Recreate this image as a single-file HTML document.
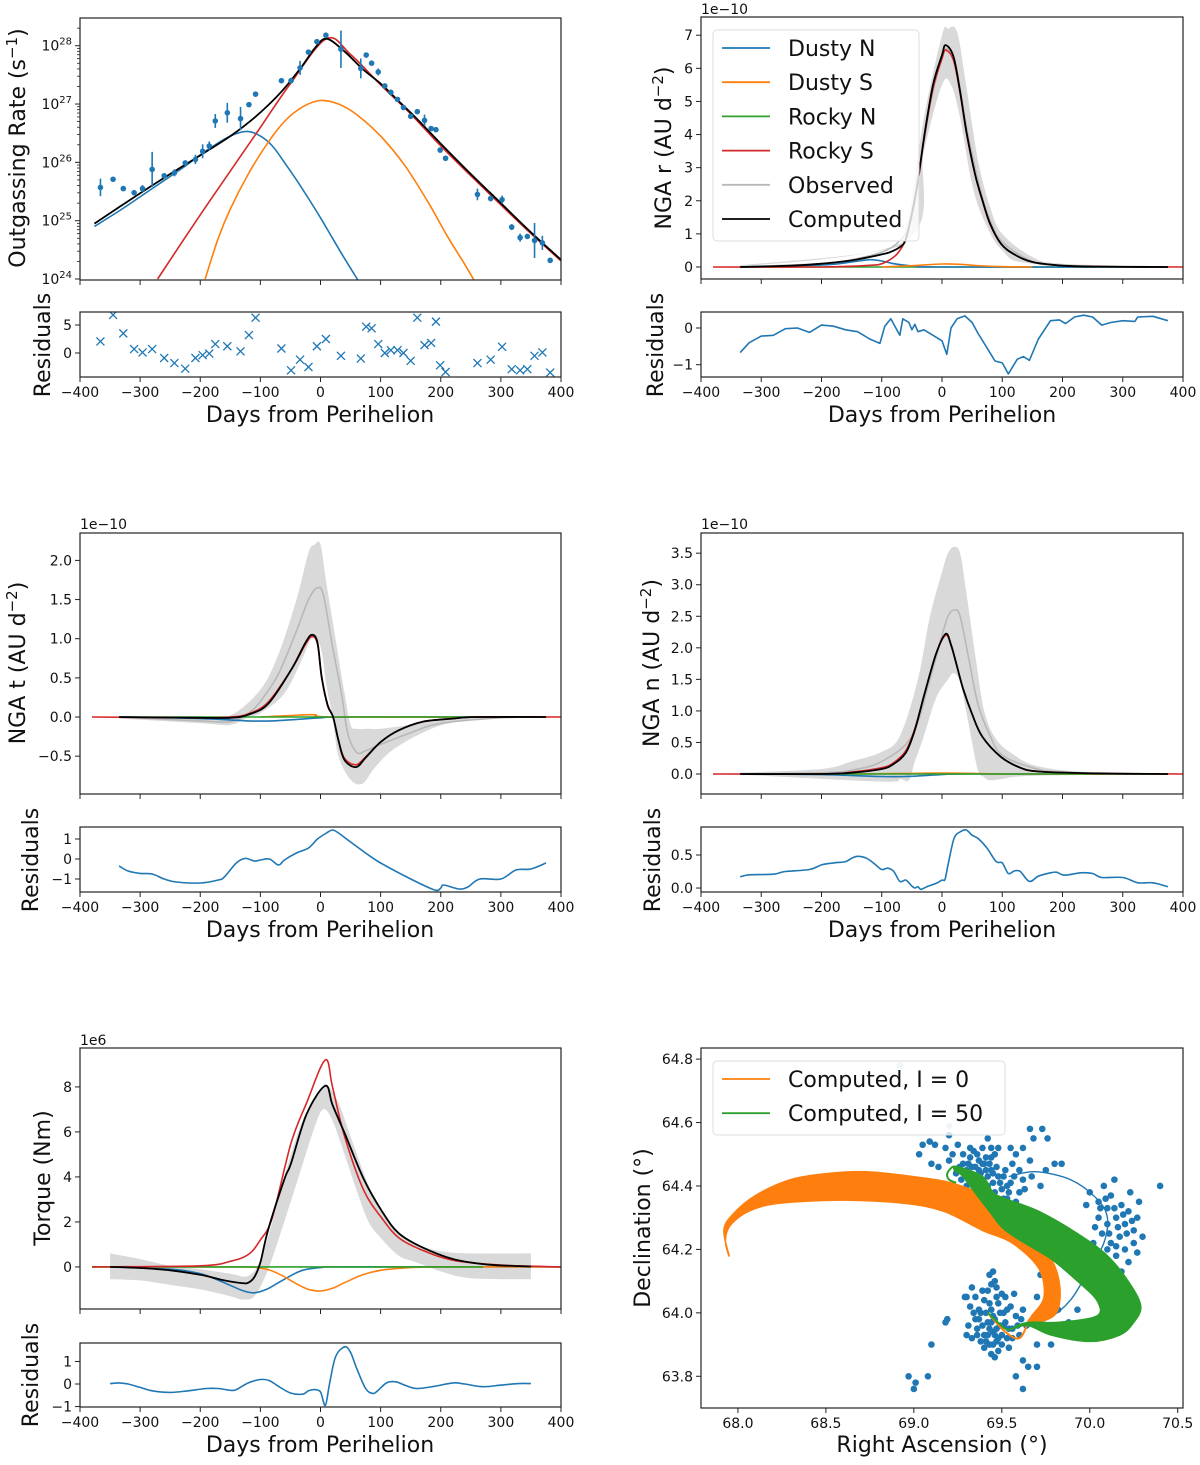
<!DOCTYPE html>
<html><head><meta charset="utf-8"><title>Outgassing and NGA model fit</title>
<style>
html,body{margin:0;padding:0;background:#fff;}
svg{display:block;font-family:"DejaVu Sans","Liberation Sans",sans-serif;}
</style></head>
<body>
<svg id="fig" xmlns="http://www.w3.org/2000/svg" width="1200" height="1465" viewBox="0 0 1200 1465"></svg>
<script>
// ---------- Panel 1: outgassing rate (log10 values) ----------
const p1Days = [-366,-345,-328,-310,-296,-280,-260,-243,-225,-208,-196,-185,-175,-155,-133,-119,-108,-65,-49,-34,-20,-6,9,34,67,76,85,96,107,117,128,138,150,161,173,184,192,199,208,261,283,302,318,332,344,356,369,382];
const p1Log = [25.57,25.71,25.55,25.48,25.55,25.88,25.77,25.82,25.99,26.05,26.19,26.28,26.71,26.85,26.75,26.99,27.17,27.40,27.40,27.62,27.89,28.07,28.18,27.94,27.61,27.84,27.70,27.55,27.31,27.20,27.08,26.94,26.79,26.87,26.72,26.58,26.56,26.21,26.07,25.45,25.38,25.36,24.89,24.71,24.73,24.66,24.62,24.32];
const p1Err = [0.15,0.03,0.03,0.04,0.06,0.3,0.04,0.06,0.04,0.08,0.12,0.08,0.12,0.17,0.2,0.04,0.03,0.04,0.05,0.12,0.03,0.03,0.03,0.32,0.17,0.03,0.03,0.06,0.03,0.05,0.04,0.03,0.03,0.03,0.1,0.04,0.03,0.04,0.03,0.1,0.05,0.07,0.05,0.07,0.03,0.3,0.12,0.04];
const p1Res = [2.06,6.8,3.5,0.7,0.1,0.7,-0.9,-1.8,-2.8,-0.9,-0.4,-0.1,1.6,1.2,0.3,3.2,6.3,0.8,-3.1,-1.2,-2.5,1.2,2.5,-0.5,-1.0,4.7,4.4,1.6,0,0.5,0.5,0,-1.4,6.3,1.4,1.8,5.6,-2.2,-3.4,-1.8,-1.2,1.1,-2.9,-3.1,-2.9,-0.5,0.1,-3.5];
const p1BlackX = [-376,-300,-250,-200,-150,-120,-90,-60,-30,-10,10,40,70,100,130,160,200,250,300,350,400];
const p1BlackY = [24.95,25.47,25.8,26.12,26.45,26.68,26.95,27.27,27.66,27.95,28.12,27.9,27.6,27.35,27.05,26.75,26.32,25.8,25.3,24.8,24.33];
const p1RedX = [-271,-200,-150,-100,-50,10,50,100,150,200,250,300,350,400];
const p1RedY = [24.0,25.1,25.85,26.6,27.35,28.12,27.85,27.33,26.83,26.28,25.77,25.27,24.78,24.31];
const p1BlueX = [-376,-330,-280,-230,-190,-150,-122,-100,-80,-60,-40,-20,0,20,40,64];
const p1BlueY = [24.9,25.2,25.55,25.9,26.2,26.45,26.53,26.45,26.28,26.0,25.7,25.38,25.05,24.7,24.35,23.95];
const p1OrangeX = [-192,-170,-150,-120,-90,-60,-30,0,30,60,100,140,180,210,240,257];
const p1OrangeY = [24.0,24.7,25.2,25.8,26.3,26.7,26.95,27.06,27.0,26.82,26.45,25.95,25.3,24.75,24.25,23.95];

// ---------- Panel 2: NGA r (1e-10) ----------
const p2BlackX = [-335,-250,-200,-150,-100,-86,-70,-60,-48,-40,-29,-15,0,6,19,30,41,55,67,80,98,120,150,200,250,375];
const p2BlackY = [0,0.04,0.1,0.2,0.38,0.45,0.6,0.85,1.8,2.6,4.0,5.5,6.4,6.7,6.36,5.3,4.04,2.8,2.02,1.3,0.7,0.38,0.15,0.04,0.01,0];
const p2RedX = [-380,-200,-120,-100,-80,-70,-60,-48,-40,-29,-15,0,6,19,30,41,55,67,80,98,120,150,200,250,400];
const p2RedY = [0,0,0.05,0.1,0.3,0.5,0.85,1.75,2.55,3.95,5.4,6.3,6.55,6.25,5.25,4.0,2.78,2.0,1.28,0.7,0.38,0.15,0.04,0.01,0];
const p2BlueX = [-335,-200,-150,-120,-100,-80,-60,-40,0,375];
const p2BlueY = [0,0.06,0.15,0.22,0.18,0.1,0.05,0.02,0,0];
const p2OrangeX = [-100,-50,0,30,60,100,150];
const p2OrangeY = [0,0.04,0.09,0.08,0.04,0.01,0];
const p2ObsX = [-335,-200,-150,-100,-70,-50,-30,-15,0,8,20,30,41,55,67,80,100,150,200,375];
const p2ObsY = [0,0.1,0.22,0.45,0.8,1.5,3.8,5.3,6.3,6.6,6.3,5.4,4.2,3.0,2.1,1.4,0.75,0.17,0.05,0];
const p2UpX = [-335,-100,-60,-30,0,10,25,40,60,80,100,150,200,375];
const p2UpY = [0.05,0.5,1.2,4.5,7.0,7.2,7.1,5.5,3.2,1.8,1.0,0.3,0.1,0.02];
const p2LoX = [-335,-60,-30,0,15,30,50,70,100,150,375];
const p2LoY = [0,0.8,3.5,5.5,5.5,4.5,2.5,1.4,0.5,0.1,0];
const p2ResX = [-335,-320,-300,-280,-260,-240,-220,-200,-180,-160,-140,-120,-103,-95,-85,-70,-65,-55,-50,-45,-40,-30,-15,0,8,15,25,38,50,60,75,88,100,110,125,135,145,160,180,195,205,220,235,250,265,280,300,320,325,350,375];
const p2ResY = [-0.67,-0.4,-0.22,-0.2,-0.02,0.0,-0.12,0.08,0.05,-0.05,-0.1,-0.3,-0.42,0.05,0.25,-0.2,0.25,0.15,-0.05,0.1,-0.1,-0.05,-0.2,-0.35,-0.72,0.0,0.25,0.33,0.15,-0.15,-0.55,-0.9,-0.95,-1.25,-0.85,-0.78,-0.88,-0.3,0.2,0.22,0.12,0.3,0.35,0.3,0.08,0.15,0.2,0.18,0.3,0.32,0.2];

// ---------- Panel 3: NGA t (1e-10) ----------
const p3BlackX = [-335,-200,-150,-120,-87,-49,-25,-14,-5,2,12,21,30,40,59,75,100,130,170,220,260,375];
const p3BlackY = [0,-0.01,-0.01,0.03,0.17,0.6,0.95,1.05,0.95,0.51,0.15,0,-0.3,-0.55,-0.64,-0.52,-0.32,-0.17,-0.06,-0.02,0,0];
const p3RedX = [-380,-200,-150,-120,-87,-49,-25,-14,-5,2,12,21,30,40,59,75,100,130,170,220,260,400];
const p3RedY = [0,-0.01,0.0,0.04,0.19,0.6,0.93,1.03,0.93,0.5,0.14,0,-0.3,-0.53,-0.61,-0.51,-0.32,-0.17,-0.06,-0.02,0,0];
const p3BlueX = [-330,-200,-120,-80,-40,0,50,375];
const p3BlueY = [0,-0.02,-0.05,-0.05,-0.03,-0.01,0,0];
const p3OrangeX = [-100,-50,-10,30,375];
const p3OrangeY = [0,0.02,0.03,0,0];
const p3ObsX = [-335,-200,-150,-120,-100,-70,-40,-20,-5,5,20,35,45,60,75,100,150,200,300,375];
const p3ObsY = [0,-0.05,-0.06,0.05,0.2,0.55,1.1,1.5,1.65,1.55,0.9,0.3,-0.2,-0.45,-0.43,-0.35,-0.2,-0.08,-0.01,0];
const p3UpX = [-335,-200,-150,-100,-70,-40,-20,-10,0,10,25,40,50,60,80,100,150,200,300,375];
const p3UpY = [0,0,0.02,0.35,0.8,1.5,2.1,2.2,2.2,1.7,1.0,0.3,-0.1,-0.15,-0.15,-0.15,-0.1,-0.04,0,0];
const p3LoX = [-335,-200,-150,-120,-100,-60,-30,-15,0,10,20,30,50,70,90,120,170,220,300,375];
const p3LoY = [-0.02,-0.08,-0.1,0,0.05,0.3,0.75,1.0,0.9,0.4,0,-0.5,-0.8,-0.85,-0.65,-0.42,-0.2,-0.07,0,0];
const p3ResX = [-335,-320,-300,-280,-260,-240,-200,-170,-160,-140,-125,-110,-100,-85,-70,-60,-40,-20,-5,10,20,30,50,75,100,150,190,200,205,230,245,265,300,325,350,375];
const p3ResY = [-0.35,-0.6,-0.72,-0.75,-1.0,-1.15,-1.2,-1.05,-0.9,-0.2,0.03,-0.1,-0.05,0,-0.3,-0.05,0.3,0.55,1.0,1.3,1.45,1.3,0.85,0.3,-0.2,-1.0,-1.55,-1.45,-1.3,-1.5,-1.4,-1.0,-1.0,-0.55,-0.5,-0.2];

// ---------- Panel 4: NGA n (1e-10) ----------
const p4BlackX = [-335,-200,-150,-100,-80,-60,-45,-29,-10,6,15,25,35,50,67,98,130,160,250,375];
const p4BlackY = [0,0,0.02,0.08,0.16,0.34,0.7,1.27,1.9,2.22,2.05,1.7,1.35,0.95,0.59,0.27,0.1,0.04,0.01,0];
const p4RedX = [-380,-200,-150,-100,-80,-60,-45,-29,-10,6,15,25,35,50,67,98,130,160,250,400];
const p4RedY = [0,0,0.03,0.1,0.18,0.37,0.72,1.27,1.9,2.2,2.04,1.7,1.35,0.95,0.59,0.27,0.1,0.04,0.01,0];
const p4BlueX = [-335,-200,-100,-60,0,50,375];
const p4BlueY = [0,-0.01,-0.04,-0.04,-0.01,0,0];
const p4OrangeX = [-150,-50,0,50,120,375];
const p4OrangeY = [0,0.01,0.015,0.01,0,0];
const p4ObsX = [-335,-200,-150,-100,-50,-20,0,10,20,30,45,60,80,100,150,200,375];
const p4ObsY = [0,0.02,0.06,0.2,0.6,1.5,2.2,2.5,2.6,2.5,1.8,1.1,0.6,0.3,0.1,0.03,0];
const p4UpX = [-335,-200,-150,-100,-70,-40,-20,0,10,20,30,40,55,70,90,120,160,250,375];
const p4UpY = [0.02,0.08,0.2,0.35,0.6,1.5,2.5,3.2,3.5,3.6,3.5,2.9,1.9,1.0,0.55,0.3,0.12,0.02,0];
const p4LoX = [-335,-100,-70,-55,-45,-30,-10,10,20,30,40,50,60,70,80,100,150,375];
const p4LoY = [-0.01,-0.12,-0.08,-0.1,0.2,0.6,1.2,1.5,1.6,1.45,1.0,0.5,0.05,-0.05,-0.1,-0.08,-0.03,0];
const p4ResX = [-335,-320,-280,-260,-220,-200,-180,-160,-150,-140,-125,-110,-100,-90,-80,-70,-60,-50,-45,-40,-35,-25,-10,0,5,10,20,30,40,50,60,75,90,100,110,120,130,145,160,180,190,200,210,230,250,265,300,325,350,375];
const p4ResY = [0.17,0.2,0.21,0.25,0.28,0.35,0.38,0.4,0.45,0.48,0.45,0.35,0.28,0.3,0.25,0.1,0.12,0.03,0.0,0.02,-0.02,0.02,0.07,0.12,0.13,0.35,0.75,0.85,0.88,0.8,0.75,0.6,0.4,0.38,0.22,0.26,0.25,0.1,0.18,0.23,0.24,0.2,0.2,0.23,0.22,0.16,0.16,0.08,0.08,0.02];

// ---------- Panel 5: torque (1e6 Nm) ----------
const p5RedX = [-380,-200,-150,-120,-100,-80,-49,-23,8,20,40,72,104,130,167,220,300,400];
const p5RedY = [0,0.05,0.25,0.55,1.2,2.2,5.5,7.3,9.2,8.0,5.8,3.4,2.1,1.3,0.77,0.3,0.08,0];
const p5BlackX = [-350,-300,-250,-200,-160,-130,-120,-110,-100,-87,-60,-49,-23,8,20,40,72,104,130,167,220,280,350];
const p5BlackY = [0,-0.05,-0.15,-0.35,-0.6,-0.72,-0.7,-0.45,0.2,1.66,3.9,4.6,6.8,8.05,7.2,5.95,3.9,2.4,1.5,0.9,0.35,0.1,0.02];
const p5BlueX = [-350,-250,-200,-160,-130,-110,-90,-70,-50,-30,0,50,400];
const p5BlueY = [0,-0.1,-0.3,-0.7,-1.05,-1.15,-1.0,-0.7,-0.4,-0.15,-0.03,0,0];
const p5OrangeX = [-380,-150,-100,-70,-40,-20,0,20,40,70,100,150,200,400];
const p5OrangeY = [0,0,-0.05,-0.3,-0.75,-1.0,-1.07,-0.95,-0.7,-0.35,-0.15,-0.03,0,0];
const p5UpX = [-350,-300,-250,-200,-150,-120,-100,-80,-60,-30,0,10,30,50,80,100,130,160,200,250,350];
const p5UpY = [0.6,0.35,0.05,-0.1,-0.3,-0.4,0.3,2.0,4.0,6.5,7.8,8.1,7.3,5.8,3.6,2.5,1.5,1.0,0.7,0.6,0.6];
const p5LoX = [-350,-300,-250,-200,-150,-130,-110,-90,-70,-40,-10,5,20,40,60,80,100,130,160,200,250,350];
const p5LoY = [-0.55,-0.6,-0.8,-1.0,-1.3,-1.45,-1.3,-0.3,1.2,3.7,6.2,7.0,6.5,5.0,3.4,2.0,1.3,0.5,0.2,-0.2,-0.5,-0.55];
const p5ResX = [-350,-335,-320,-300,-280,-250,-220,-190,-170,-150,-140,-120,-100,-85,-70,-50,-30,-20,-10,0,8,15,25,40,50,60,75,87,95,110,125,140,160,190,220,240,270,300,330,350];
const p5ResY = [0.02,0.05,0.0,-0.15,-0.3,-0.37,-0.3,-0.2,-0.2,-0.28,-0.25,0.05,0.2,0.15,-0.1,-0.4,-0.45,-0.3,-0.25,-0.35,-0.95,0.0,1.2,1.65,1.4,0.7,-0.2,-0.42,-0.3,0.05,0.1,-0.05,-0.2,-0.1,0.05,0.0,-0.12,-0.05,0.02,0.02];

// ---------- Panel 6: astrometry ----------
const obsRA = [69.18,69.2,69.22,69.25,69.28,69.30,69.32,69.33,69.35,69.36,69.37,69.38,69.40,69.40,69.42,69.43,69.44,69.45,69.46,69.47,69.48,69.50,69.52,69.53,69.55,69.58,69.60,69.30,69.27,69.24,69.34,69.39,69.42,69.48,69.56,69.62,69.14,69.12,69.20,69.44,69.36,69.31,69.50,69.27,69.09,
 69.29,69.31,69.33,69.35,69.37,69.39,69.41,69.43,69.45,69.47,69.49,69.51,69.53,69.38,69.34,69.42,69.46,69.26,69.28,69.32,69.36,69.41,69.44,69.39,69.57,69.60,69.63,69.67,69.54,69.51,
 69.66,69.68,69.73,69.62,69.76,69.55,69.58,69.66,69.80,69.84,69.72,69.75,69.05,69.10,69.03,
 70.0,70.05,70.08,70.1,70.12,70.15,70.18,70.2,70.22,70.25,70.27,70.1,70.07,70.12,70.15,70.2,70.08,70.13,70.25,70.05,69.98,70.3,70.28,70.17,70.22,70.02,70.4,70.14,70.23,70.18,70.12,
 70.09,70.14,70.19,70.11,70.16,70.21,70.24,70.27,70.06,70.1,70.15,70.03,
 69.32,69.35,69.36,69.38,69.40,69.40,69.42,69.43,69.44,69.45,69.46,69.47,69.48,69.49,69.50,69.51,69.52,69.53,69.55,69.56,69.58,69.60,69.62,69.38,69.42,69.46,69.44,69.50,69.35,69.31,69.33,69.40,69.48,69.54,69.57,69.64,69.30,69.43,69.47,69.37,
 69.41,69.43,69.45,69.47,69.49,69.46,69.44,69.42,69.39,69.37,69.48,69.51,69.53,69.54,69.50,69.45,69.41,69.36,69.34,69.43,69.52,69.47,69.39,69.56,69.59,69.61,69.45,69.44,69.33,69.46,
 69.19,69.18,69.1,69.3,69.29,69.7,69.62,69.65,69.7,69.78,69.82,69.88,69.93,69.75,69.58,69.62,68.97,69.01,69.0,69.08,69.72,69.7,69.2,68.92];
const obsDec = [64.52,64.48,64.50,64.53,64.47,64.45,64.49,64.43,64.46,64.41,64.48,64.44,64.40,64.47,64.43,64.38,64.45,64.41,64.50,64.36,64.43,64.39,64.45,64.36,64.41,64.35,64.38,64.40,64.42,64.44,64.51,64.52,64.55,64.52,64.47,64.42,64.46,64.53,64.56,64.49,64.37,64.47,64.34,64.38,64.54,
 64.44,64.42,64.46,64.43,64.45,64.42,64.45,64.47,64.44,64.46,64.41,64.43,64.40,64.39,64.39,64.40,64.38,64.46,64.50,64.52,64.50,64.49,64.52,64.47,64.43,64.45,64.39,64.43,64.38,64.36,
 64.58,64.55,64.58,64.52,64.55,64.52,64.50,64.48,64.47,64.47,64.40,64.45,64.53,64.47,64.50,
 64.38,64.35,64.40,64.33,64.37,64.30,64.34,64.28,64.32,64.26,64.30,64.28,64.25,64.22,64.18,64.20,64.18,64.15,64.22,64.30,64.34,64.24,64.35,64.24,64.16,64.22,64.40,64.42,64.38,64.13,64.10,
 64.36,64.33,64.31,64.25,64.27,64.25,64.29,64.19,64.33,64.20,64.21,64.27,
 64.02,63.98,63.95,64.00,63.93,64.04,63.97,63.90,64.01,63.94,63.98,63.91,64.03,63.96,63.93,64.00,63.97,63.92,64.02,63.95,63.99,63.93,64.01,63.91,64.07,64.10,63.87,64.06,64.05,63.96,63.92,63.89,63.88,63.89,64.06,63.96,64.05,64.12,64.08,63.98,
 64.00,63.95,63.99,63.95,64.00,63.93,63.97,63.93,63.96,64.01,63.92,63.96,64.01,63.95,63.90,63.90,63.91,63.93,64.00,64.03,64.05,64.05,64.07,63.92,63.96,63.98,64.13,64.09,64.08,63.86,
 63.98,63.97,63.9,63.93,64.05,63.9,63.85,63.83,63.83,63.9,64.01,63.97,64.01,63.96,63.8,63.76,63.8,63.78,63.76,63.8,64.12,64.05,64.59,64.78];
const orbitRA = [69.54,69.69,69.89,70.04,70.1,70.08,70.0,69.89,69.76,69.63];
const orbitDec = [64.43,64.445,64.42,64.36,64.3,64.22,64.14,64.04,63.98,63.96];
const orangeBandRA = [67.95,67.92,67.97,68.1,68.3,68.52,68.73,68.99,69.21,69.39,69.5,69.65,69.78,69.83,69.81,69.71,69.65,69.67,69.74,69.71,69.56,69.39,69.17,68.95,68.63,68.34,68.17,68.06,67.98,67.94,67.93];
const orangeBandDec = [64.18,64.26,64.31,64.37,64.42,64.44,64.445,64.43,64.41,64.37,64.30,64.24,64.17,64.08,64.0,63.97,63.97,63.99,64.05,64.14,64.22,64.26,64.32,64.345,64.355,64.35,64.34,64.32,64.29,64.26,64.22];
const orangeTailRA = [69.65,69.6,69.52,69.42];
const orangeTailDec = [63.97,63.92,63.94,64.0];
const greenBandRA = [69.25,69.39,69.45,69.52,69.71,69.93,70.1,70.23,70.29,70.25,70.17,70.0,69.78,69.65,69.56,69.65,69.82,70.04,70.04,69.93,69.78,69.6,69.5,69.43,69.36,69.28,69.23];
const greenBandDec = [64.46,64.43,64.38,64.36,64.32,64.25,64.18,64.09,64.02,63.97,63.93,63.91,63.93,63.96,63.95,63.97,63.97,63.99,64.04,64.1,64.17,64.23,64.27,64.32,64.37,64.43,64.45];
const greenHookRA = [69.24,69.2,69.19,69.22,69.25];
const greenHookDec = [64.41,64.42,64.44,64.46,64.46];
const greenTailRA = [69.42,69.52,69.56];
const greenTailDec = [64.0,63.95,63.95];

const xTicks = [-400,-300,-200,-100,0,100,200,300,400];

const C = {blue:'#1f77b4',orange:'#ff7f0e',green:'#2ca02c',red:'#d62728',band:'#d9d9d9',obs:'#b8b8b8'};
const NS = 'http://www.w3.org/2000/svg';
const svg = document.getElementById('fig');
let clipN = 0;

function el(tag, attrs, parent){
  const e = document.createElementNS(NS, tag);
  for (const k in attrs) e.setAttribute(k, attrs[k]);
  (parent||svg).appendChild(e);
  return e;
}
function axes(o){
  o.sx = v => o.x0 + (v-o.xmin)/(o.xmax-o.xmin)*(o.x1-o.x0);
  o.sy = v => o.y1 - (v-o.ymin)/(o.ymax-o.ymin)*(o.y1-o.y0);
  const id = 'clip'+(clipN++);
  const cp = el('clipPath',{id:id});
  el('rect',{x:o.x0,y:o.y0,width:o.x1-o.x0,height:o.y1-o.y0},cp);
  o.g = el('g',{'clip-path':'url(#'+id+')'});
  
  
  return o;
}
function frame(o){
  const r = el('rect',{x:o.x0,y:o.y0,width:o.x1-o.x0,height:o.y1-o.y0,fill:'none',stroke:'#222','stroke-width':1.2});
  
  
}
function smoothPath(pts, closed){
  const n = pts.length;
  if (n < 3) return 'M'+pts.map(p=>p.join(',')).join('L');
  const get = i => closed ? pts[(i+n)%n] : pts[Math.max(0,Math.min(n-1,i))];
  let d = 'M'+pts[0][0].toFixed(1)+','+pts[0][1].toFixed(1);
  const segs = closed ? n : n-1;
  for (let i=0;i<segs;i++){
    const p0 = get(i-1), p1 = get(i), p2 = get(i+1), p3 = get(i+2);
    const c1x = p1[0]+(p2[0]-p0[0])/6, c1y = p1[1]+(p2[1]-p0[1])/6;
    const c2x = p2[0]-(p3[0]-p1[0])/6, c2y = p2[1]-(p3[1]-p1[1])/6;
    d += 'C'+c1x.toFixed(1)+','+c1y.toFixed(1)+' '+c2x.toFixed(1)+','+c2y.toFixed(1)+' '+p2[0].toFixed(1)+','+p2[1].toFixed(1);
  }
  return d + (closed ? 'Z' : '');
}
function line(o, xs, ys, color, w, name, smooth){
  const pts = xs.map((x,i)=>[o.sx(x), o.sy(ys[i])]);
  const d = smooth===false ? 'M'+pts.map(p=>p[0].toFixed(1)+','+p[1].toFixed(1)).join('L') : smoothPath(pts);
  const p = el('path',{d:d,fill:'none',stroke:color,'stroke-width':w||1.6,'stroke-linejoin':'round'}, o.g);
  
  
  return p;
}
function band(o, ux, uy, lx, ly, name){
  const up = ux.map((x,i)=>[o.sx(x),o.sy(uy[i])]);
  const lo = lx.map((x,i)=>[o.sx(x),o.sy(ly[i])]).reverse();
  const d = smoothPath(up) + smoothPath(lo).replace('M','L') + 'Z';
  const p = el('path',{d:d,fill:C.band,stroke:'none'}, o.g);
  
  
}
function text(x,y,s,size,anchor,name,rot){
  const t = el('text',{x:x,y:y,'font-size':size,'text-anchor':anchor||'middle',fill:'#111'});
  if (rot) t.setAttribute('transform','rotate(-90 '+x+' '+y+')');
  t.textContent = s;
  
  
  return t;
}
function fmt(v,dec){ const s = v.toFixed(dec); return s.replace('-','\u2212'); }
function xAxis(o, labels, vals){
  (vals||xTicks).forEach((v,i)=>{
    const x = o.sx(v);
    const tk = el('line',{x1:x,x2:x,y1:o.y1,y2:o.y1+5,stroke:'#222','stroke-width':1});
    
    
    if (labels) text(x, o.y1+20, labels[i], 14, 'middle', 'x-tick-label');
  });
}
function yAxis(o, vals, dec){
  vals.forEach(v=>{
    const y = o.sy(v);
    const tk = el('line',{x1:o.x0-5,x2:o.x0,y1:y,y2:y,stroke:'#222','stroke-width':1});
    
    
    text(o.x0-8, y+5, fmt(v,dec), 14, 'end', 'y-tick-label');
  });
}
const xLabels = xTicks.map(v=>fmt(v,0));

// ========== Panel 1 ==========
const a1 = axes({name:'outgassing',x0:80,x1:561,y0:18,y1:280,xmin:-400,xmax:400,ymin:23.983,ymax:28.475});
line(a1,p1BlueX,p1BlueY,C.blue,1.6,'dusty-n-curve');
line(a1,p1OrangeX,p1OrangeY,C.orange,1.6,'dusty-s-curve');
line(a1,p1RedX,p1RedY,C.red,1.6,'rocky-s-curve');
line(a1,p1BlackX,p1BlackY,'#000',1.8,'computed-curve');
p1Days.forEach((d,i)=>{
  const x = a1.sx(d), y = a1.sy(p1Log[i]);
  const eb = el('line',{x1:x,x2:x,y1:a1.sy(p1Log[i]+p1Err[i]),y2:a1.sy(p1Log[i]-p1Err[i]),stroke:C.blue,'stroke-width':1.6},a1.g);
  
  
  const c = el('circle',{cx:x,cy:y,r:2.8,fill:C.blue},a1.g);
  
  
});
frame(a1);
xAxis(a1,null);
[24,25,26,27,28].forEach(e=>{
  const y = a1.sy(e);
  el('line',{x1:a1.x0-5,x2:a1.x0,y1:y,y2:y,stroke:'#222','stroke-width':1});
  const t = text(a1.x0-8, y+5, '10', 14, 'end', 'y-tick-label');
  const ts = el('tspan',{dy:-6,'font-size':10},t); ts.textContent = e;
  for (let m=2;m<10;m++){
    const v = e+Math.log10(m);
    if (v < a1.ymax){ const ym=a1.sy(v); el('line',{x1:a1.x0-3,x2:a1.x0,y1:ym,y2:ym,stroke:'#222','stroke-width':0.8}); }
  }
});
(function(){
  const t = text(25,148,'Outgassing Rate (s',22,'middle','y-axis-title',true);
  const s1 = el('tspan',{dy:-8,'font-size':15},t); s1.textContent='\u22121';
  const s2 = el('tspan',{dy:8},t); s2.textContent=')';
})();
const r1 = axes({name:'outgassing-residuals',x0:80,x1:561,y0:312,y1:377,xmin:-400,xmax:400,ymin:-4.29,ymax:7.32});
p1Days.forEach((d,i)=>{
  const x = r1.sx(d), y = r1.sy(p1Res[i]);
  const m = el('path',{d:`M${x-4},${y-4}L${x+4},${y+4}M${x-4},${y+4}L${x+4},${y-4}`,stroke:C.blue,'stroke-width':1.3,fill:'none'},r1.g);
  
  
});
frame(r1); xAxis(r1,xLabels); yAxis(r1,[0,5],0);
text(50,345,'Residuals',22,'middle','residuals-title',true);
text(320,422,'Days from Perihelion',22,'middle','x-axis-title');

// ========== Panel 2 ==========
const a2 = axes({name:'nga-r',x0:701,x1:1183,y0:17,y1:279,xmin:-400,xmax:400,ymin:-0.363,ymax:7.55});
band(a2,p2UpX,p2UpY,p2LoX,p2LoY,'observed-band');
line(a2,p2ObsX,p2ObsY,C.obs,1.6,'observed-curve');
line(a2,[-335,375],[0,0],C.green,1.6,'rocky-n-curve',false);
line(a2,p2BlueX,p2BlueY,C.blue,1.6,'dusty-n-curve');
line(a2,p2OrangeX,p2OrangeY,C.orange,1.6,'dusty-s-curve');
line(a2,p2RedX,p2RedY,C.red,1.6,'rocky-s-curve');
line(a2,p2BlackX,p2BlackY,'#000',1.8,'computed-curve');
frame(a2); xAxis(a2,null); yAxis(a2,[0,1,2,3,4,5,6,7],0);
text(701,14,'1e\u221210',14,'start','offset-label');
(function(){
  const t = text(671,148,'NGA r (AU d',22,'middle','y-axis-title',true);
  const s1 = el('tspan',{dy:-8,'font-size':15},t); s1.textContent='\u22122';
  const s2 = el('tspan',{dy:8},t); s2.textContent=')';
})();
(function(){
  const g = el('g',{});
  
  
  el('rect',{x:713,y:30,width:206,height:211,rx:4,fill:'#fff','fill-opacity':0.8,stroke:'#ddd'},g);
  const items = [['Dusty N',C.blue],['Dusty S',C.orange],['Rocky N',C.green],['Rocky S',C.red],['Observed',C.obs],['Computed','#000']];
  items.forEach((it,i)=>{
    const y = 48+i*34.2;
    const l = el('line',{x1:722,x2:770,y1:y,y2:y,stroke:it[1],'stroke-width':1.8},g);
    
    
    const t = el('text',{x:788,y:y+8,'font-size':22,fill:'#111'},g);
    t.textContent = it[0];
    
    
  });
})();
const r2 = axes({name:'nga-r-residuals',x0:701,x1:1183,y0:312,y1:377,xmin:-400,xmax:400,ymin:-1.335,ymax:0.436});
line(r2,p2ResX,p2ResY,C.blue,1.6,'residual-curve',false);
frame(r2); xAxis(r2,xLabels); yAxis(r2,[-1,0],0);
text(663,345,'Residuals',22,'middle','residuals-title',true);
text(942,422,'Days from Perihelion',22,'middle','x-axis-title');

// ========== Panel 3 ==========
const a3 = axes({name:'nga-t',x0:80,x1:561,y0:533,y1:794,xmin:-400,xmax:400,ymin:-0.983,ymax:2.35});
band(a3,p3UpX,p3UpY,p3LoX,p3LoY,'observed-band');
line(a3,p3ObsX,p3ObsY,C.obs,1.6,'observed-curve');
line(a3,p3BlueX,p3BlueY,C.blue,1.6,'dusty-n-curve');
line(a3,p3OrangeX,p3OrangeY,C.orange,1.6,'dusty-s-curve');
line(a3,[-335,375],[0,0],C.green,1.6,'rocky-n-curve',false);
line(a3,p3RedX,p3RedY,C.red,1.6,'rocky-s-curve');
line(a3,p3BlackX,p3BlackY,'#000',1.8,'computed-curve');
frame(a3); xAxis(a3,null); yAxis(a3,[-0.5,0,0.5,1,1.5,2],1);
text(80,529,'1e\u221210',14,'start','offset-label');
(function(){
  const t = text(25,663,'NGA t (AU d',22,'middle','y-axis-title',true);
  const s1 = el('tspan',{dy:-8,'font-size':15},t); s1.textContent='\u22122';
  const s2 = el('tspan',{dy:8},t); s2.textContent=')';
})();
const r3 = axes({name:'nga-t-residuals',x0:80,x1:561,y0:827,y1:892,xmin:-400,xmax:400,ymin:-1.65,ymax:1.6});
line(r3,p3ResX,p3ResY,C.blue,1.6,'residual-curve');
frame(r3); xAxis(r3,xLabels); yAxis(r3,[-1,0,1],0);
text(38,860,'Residuals',22,'middle','residuals-title',true);
text(320,937,'Days from Perihelion',22,'middle','x-axis-title');

// ========== Panel 4 ==========
const a4 = axes({name:'nga-n',x0:701,x1:1183,y0:533,y1:794,xmin:-400,xmax:400,ymin:-0.317,ymax:3.82});
band(a4,p4UpX,p4UpY,p4LoX,p4LoY,'observed-band');
line(a4,p4ObsX,p4ObsY,C.obs,1.6,'observed-curve');
line(a4,p4BlueX,p4BlueY,C.blue,1.6,'dusty-n-curve');
line(a4,p4OrangeX,p4OrangeY,C.orange,1.6,'dusty-s-curve');
line(a4,[-335,375],[0,0],C.green,1.6,'rocky-n-curve',false);
line(a4,p4RedX,p4RedY,C.red,1.6,'rocky-s-curve');
line(a4,p4BlackX,p4BlackY,'#000',1.8,'computed-curve');
frame(a4); xAxis(a4,null); yAxis(a4,[0,0.5,1,1.5,2,2.5,3,3.5],1);
text(701,529,'1e\u221210',14,'start','offset-label');
(function(){
  const t = text(659,663,'NGA n (AU d',22,'middle','y-axis-title',true);
  const s1 = el('tspan',{dy:-8,'font-size':15},t); s1.textContent='\u22122';
  const s2 = el('tspan',{dy:8},t); s2.textContent=')';
})();
const r4 = axes({name:'nga-n-residuals',x0:701,x1:1183,y0:827,y1:892,xmin:-400,xmax:400,ymin:-0.06,ymax:0.924});
line(r4,p4ResX,p4ResY,C.blue,1.6,'residual-curve');
frame(r4); xAxis(r4,xLabels); yAxis(r4,[0,0.5],1);
text(660,860,'Residuals',22,'middle','residuals-title',true);
text(942,937,'Days from Perihelion',22,'middle','x-axis-title');

// ========== Panel 5 ==========
const a5 = axes({name:'torque',x0:80,x1:561,y0:1048,y1:1309,xmin:-400,xmax:400,ymin:-1.87,ymax:9.73});
band(a5,p5UpX,p5UpY,p5LoX,p5LoY,'observed-band');
line(a5,p5BlueX,p5BlueY,C.blue,1.6,'dusty-n-curve');
line(a5,p5OrangeX,p5OrangeY,C.orange,1.6,'dusty-s-curve');
line(a5,[-380,270],[0,0],C.green,1.6,'rocky-n-curve',false);
line(a5,p5RedX,p5RedY,C.red,1.6,'rocky-s-curve');
line(a5,p5BlackX,p5BlackY,'#000',1.8,'computed-curve');
frame(a5); xAxis(a5,null); yAxis(a5,[0,2,4,6,8],0);
text(80,1045,'1e6',14,'start','offset-label');
text(50,1178,'Torque (Nm)',22,'middle','y-axis-title',true);
const r5 = axes({name:'torque-residuals',x0:80,x1:561,y0:1343,y1:1407,xmin:-400,xmax:400,ymin:-1.02,ymax:1.82});
line(r5,p5ResX,p5ResY,C.blue,1.6,'residual-curve');
frame(r5); xAxis(r5,xLabels); yAxis(r5,[-1,0,1],0);
text(38,1375,'Residuals',22,'middle','residuals-title',true);
text(320,1452,'Days from Perihelion',22,'middle','x-axis-title');

// ========== Panel 6 ==========
const a6 = axes({name:'sky-position',x0:701,x1:1183,y0:1048,y1:1408,xmin:67.79,xmax:70.53,ymin:63.70,ymax:64.835});
obsRA.forEach((ra,i)=>{
  const faint = obsDec[i] > 64.57 && ra < 69.25;
  const c = el('circle',{cx:a6.sx(ra),cy:a6.sy(obsDec[i]),r:3.3,fill:C.blue,'fill-opacity':faint?0.35:1},a6.g);
  
  
});
line(a6,orbitRA,orbitDec,C.blue,1.4,'orbit-curve');
(function(){
  const pts = orangeBandRA.map((r,i)=>[a6.sx(r),a6.sy(orangeBandDec[i])]);
  const p = el('path',{d:smoothPath(pts,true),fill:C.orange,stroke:C.orange,'stroke-width':1.5,'stroke-linejoin':'round'},a6.g);
  
  
})();
line(a6,orangeTailRA,orangeTailDec,C.orange,2,'computed-i0-tail');
(function(){
  const pts = greenBandRA.map((r,i)=>[a6.sx(r),a6.sy(greenBandDec[i])]);
  const p = el('path',{d:smoothPath(pts,true),fill:C.green,stroke:C.green,'stroke-width':1.5,'stroke-linejoin':'round'},a6.g);
  
  
})();
line(a6,greenHookRA,greenHookDec,C.green,2,'computed-i50-hook');
line(a6,greenTailRA,greenTailDec,C.green,2,'computed-i50-tail');
frame(a6);
xAxis(a6,['68.0','68.5','69.0','69.5','70.0','70.5'],[68,68.5,69,69.5,70,70.5]);
yAxis(a6,[63.8,64.0,64.2,64.4,64.6,64.8],1);
text(650,1228,'Declination (\u00b0)',22,'middle','y-axis-title',true);
text(942,1452,'Right Ascension (\u00b0)',22,'middle','x-axis-title');
(function(){
  const g = el('g',{});
  
  
  el('rect',{x:713,y:1061,width:292,height:74,rx:4,fill:'#fff','fill-opacity':0.8,stroke:'#ddd'},g);
  [['Computed, I = 0',C.orange],['Computed, I = 50',C.green]].forEach((it,i)=>{
    const y = 1079+i*34.2;
    const l = el('line',{x1:722,x2:770,y1:y,y2:y,stroke:it[1],'stroke-width':1.8},g);
    
    
    const t = el('text',{x:788,y:y+8,'font-size':22,fill:'#111'},g);
    t.textContent = it[0];
    
    
  });
})();
</script>
</body></html>
